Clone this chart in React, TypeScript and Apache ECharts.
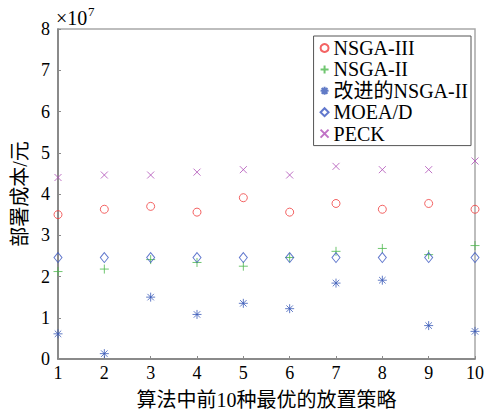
import React, { useEffect, useRef } from "react";
import * as echarts from "echarts";

const strategies = [1, 2, 3, 4, 5, 6, 7, 8, 9, 10];
const nsga3 = [3.5, 3.63, 3.7, 3.56, 3.91, 3.56, 3.77, 3.63, 3.77, 3.63];
const nsga2 = [2.12, 2.18, 2.41, 2.34, 2.25, 2.46, 2.61, 2.68, 2.53, 2.75];
const improved = [0.61, 0.13, 1.5, 1.08, 1.35, 1.22, 1.84, 1.91, 0.81, 0.67];
const moead = [2.46, 2.46, 2.46, 2.46, 2.46, 2.46, 2.46, 2.46, 2.46, 2.46];
const peck = [4.4, 4.46, 4.46, 4.53, 4.59, 4.46, 4.67, 4.59, 4.59, 4.8];
const seriesNames = ["NSGA-III", "NSGA-II", "改进的NSGA-II", "MOEA/D", "PECK"];

const FONT = "'Liberation Serif', 'Times New Roman', 'Noto Sans CJK SC', serif";

const toPairs = (ys: number[]) => strategies.map((x, i) => [x, ys[i]]);

export default function App() {
  const ref = useRef<HTMLDivElement>(null);
  useEffect(() => {
    const chart = echarts.init(ref.current!, undefined, { renderer: "svg" });
    const plus = "path://M0,-1V1M-1,0H1";
    const star = "path://M0,-1V1M-1,0H1M-0.72,-0.72L0.72,0.72M-0.72,0.72L0.72,-0.72";
    const cross = "path://M-1,-1L1,1M-1,1L1,-1";
    const mk = (name: string, data: number[], symbol: string, size: any, color: string) => ({
      name,
      type: "scatter",
      data: toPairs(data),
      symbol,
      symbolSize: size,
      clip: false,
      itemStyle: { color: "rgba(255,255,255,0)", borderColor: color, borderWidth: 1 },
    });
    chart.setOption({
      animation: false,
      backgroundColor: "#fff",
      grid: {
        left: 58,
        right: 13,
        top: 29,
        bottom: 53,
        containLabel: false,
        outerBoundsMode: "none",
        show: true,
        borderColor: "#a8a8a8",
        borderWidth: 1.5,
      },
      xAxis: {
        type: "value",
        min: 1,
        max: 10,
        interval: 1,
        name: "算法中前10种最优的放置策略",
        nameLocation: "middle",
        nameGap: 31,
        nameTextStyle: { fontSize: 20, fontFamily: FONT, color: "#000" },
        axisLine: { show: true, lineStyle: { color: "#7a7a7a", width: 1.5 } },
        axisTick: { show: true, inside: true, length: 3, lineStyle: { color: "#8a8a8a" } },
        axisLabel: { fontSize: 18, fontFamily: FONT, color: "#000", margin: 5 },
        splitLine: { show: false },
      },
      yAxis: {
        type: "value",
        min: 0,
        max: 8,
        interval: 1,
        name: "部署成本/元",
        nameLocation: "middle",
        nameGap: 22,
        nameTextStyle: { fontSize: 20, fontFamily: FONT, color: "#000" },
        axisLine: { show: true, lineStyle: { color: "#7a7a7a", width: 1.5 } },
        axisTick: { show: true, inside: true, length: 3, lineStyle: { color: "#8a8a8a" } },
        axisLabel: { fontSize: 18, fontFamily: FONT, color: "#000", margin: 8 },
        splitLine: { show: false },
      },
      legend: {
        orient: "vertical",
        right: 17,
        top: 36,
        data: seriesNames,
        backgroundColor: "#fff",
        borderColor: "#555",
        borderWidth: 1,
        padding: [2, 3, 2, 6],
        itemGap: 1.4,
        itemWidth: 8,
        itemHeight: 8,
        textStyle: { fontSize: 20, fontFamily: FONT, color: "#000", lineHeight: 20 },
      },
      graphic: [
        { type: "text", left: 56, top: 8, style: { text: "×10", fontSize: 20, fontFamily: FONT, fill: "#000" } },
        { type: "text", left: 88, top: 5, style: { text: "7", fontSize: 13, fontFamily: FONT, fill: "#000" } },
      ],
      series: [
        mk(seriesNames[0], nsga3, "circle", 8, "#f03c3c"),
        mk(seriesNames[1], nsga2, plus, 9, "#4cb84c"),
        mk(seriesNames[2], improved, star, 9, "#3a5ab8"),
        mk(seriesNames[3], moead, "diamond", [8, 10], "#3a56c0"),
        mk(seriesNames[4], peck, cross, 7, "#b050b8"),
      ],
    });
    return () => chart.dispose();
  }, []);
  return <div ref={ref} style={{ width: 488, height: 412, position: "absolute", left: 0, top: 0 }} />;
}
